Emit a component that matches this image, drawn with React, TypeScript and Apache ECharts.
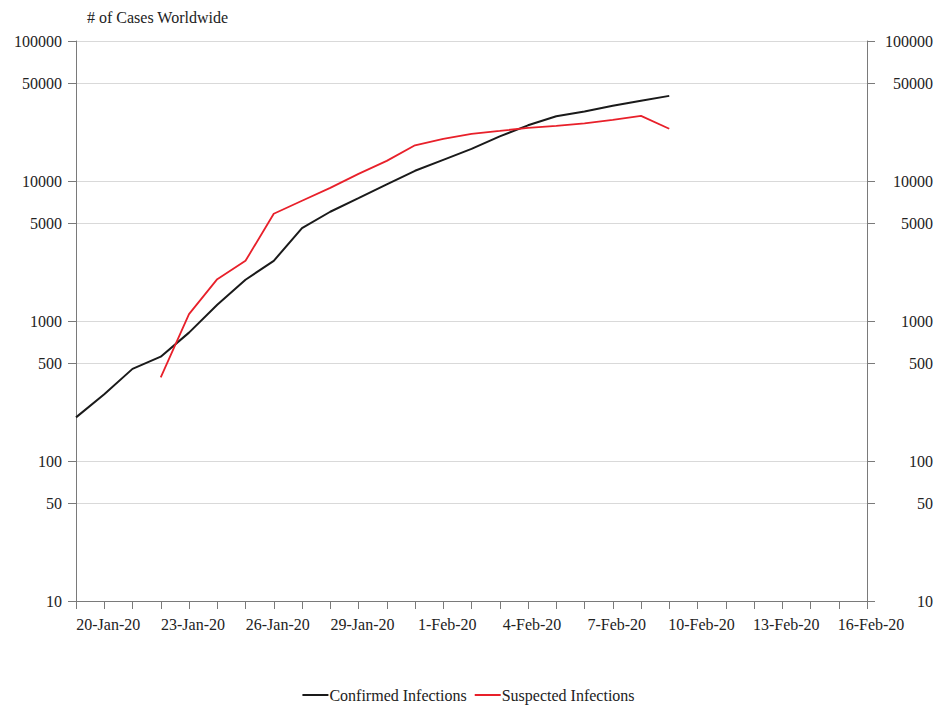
import React, { useEffect, useRef } from "react";
import * as echarts from "echarts";

const dates = [
  "19-Jan-20", "20-Jan-20", "21-Jan-20", "22-Jan-20", "23-Jan-20", "24-Jan-20", "25-Jan-20",
  "26-Jan-20", "27-Jan-20", "28-Jan-20", "29-Jan-20", "30-Jan-20", "31-Jan-20", "1-Feb-20",
  "2-Feb-20", "3-Feb-20", "4-Feb-20", "5-Feb-20", "6-Feb-20", "7-Feb-20", "8-Feb-20",
  "9-Feb-20", "10-Feb-20", "11-Feb-20", "12-Feb-20", "13-Feb-20", "14-Feb-20", "15-Feb-20",
  "16-Feb-20",
];

const confirmed = [
  205, 300, 455, 556, 826, 1306, 1970, 2690, 4600, 6030, 7540, 9460, 11830, 14160,
  16970, 20840, 24990, 28990, 31350, 34440, 37400, 40550,
];

const suspected = [
  null, null, null, 395, 1120, 1990, 2690, 5840, 7230, 8930, 11240, 13930, 18000, 20000,
  21730, 22800, 23970, 24770, 25800, 27350, 29170, 23600,
];

const yTicks = [10, 50, 100, 500, 1000, 5000, 10000, 50000, 100000];

const FONT = "'Liberation Serif', 'DejaVu Serif', serif";

export default function App() {
  const ref = useRef<HTMLDivElement>(null);
  useEffect(() => {
    if (!ref.current) return;
    const chart = echarts.init(ref.current, undefined, { renderer: "svg" });
    const yAxisBase = (pos: "left" | "right") => ({
      type: "log" as const,
      logBase: 10,
      min: 10,
      max: 100000,
      position: pos,
      axisLine: { show: true, lineStyle: { color: "#7a7a7a", width: 1 } },
      axisTick: {
        show: true,
        length: 8,
        customValues: yTicks,
        lineStyle: { color: "#7a7a7a" },
      },
      minorTick: { show: false },
      axisLabel: {
        customValues: yTicks,
        color: "#222",
        fontFamily: FONT,
        fontSize: 16,
        margin: pos === "left" ? 14 : 66,
        align: "right" as const,
        formatter: (v: number) => String(Math.round(v)),
      },
      splitLine: {
        show: pos === "left",
        lineStyle: { color: "#d9d9d9", width: 1 },
      },
    });
    chart.setOption({
      animation: false,
      backgroundColor: "#fff",
      title: {
        text: "# of Cases Worldwide",
        left: 82,
        top: 4,
        textStyle: { fontFamily: FONT, fontSize: 16, fontWeight: "normal", color: "#222" },
      },
      legend: {
        left: "center",
        top: 682,
        itemWidth: 26,
        itemHeight: 2,
        itemGap: 8,
        icon: "rect",
        textStyle: { fontFamily: FONT, fontSize: 16, color: "#222", padding: [0, 0, 0, -4] },
        data: ["Confirmed Infections", "Suspected Infections"],
      },
      grid: { left: 76, right: 70, top: 41, bottom: 104, containLabel: false },
      xAxis: {
        type: "category",
        data: dates,
        boundaryGap: false,
        axisLine: { lineStyle: { color: "#7a7a7a" } },
        axisTick: { show: true, interval: 0, length: 8, lineStyle: { color: "#7a7a7a" } },
        axisLabel: {
          interval: (i: number) => i % 3 === 1,
          color: "#222",
          fontFamily: FONT,
          fontSize: 16,
          margin: 15,
          padding: [0, 0, 0, 8],
        },
        splitLine: { show: false },
      },
      yAxis: [yAxisBase("left"), yAxisBase("right")],
      series: [
        {
          name: "Confirmed Infections",
          type: "line",
          data: confirmed,
          showSymbol: false,
          symbol: "none",
          color: "#1a1a1a",
          lineStyle: { color: "#1a1a1a", width: 2 },
        },
        {
          name: "Suspected Infections",
          type: "line",
          data: suspected,
          showSymbol: false,
          symbol: "none",
          color: "#e8202a",
          lineStyle: { color: "#e8202a", width: 1.8 },
        },
      ],
    });
    return () => chart.dispose();
  }, []);
  return <div ref={ref} style={{ width: 937, height: 705, position: "absolute", left: 0, top: 0 }} />;
}
